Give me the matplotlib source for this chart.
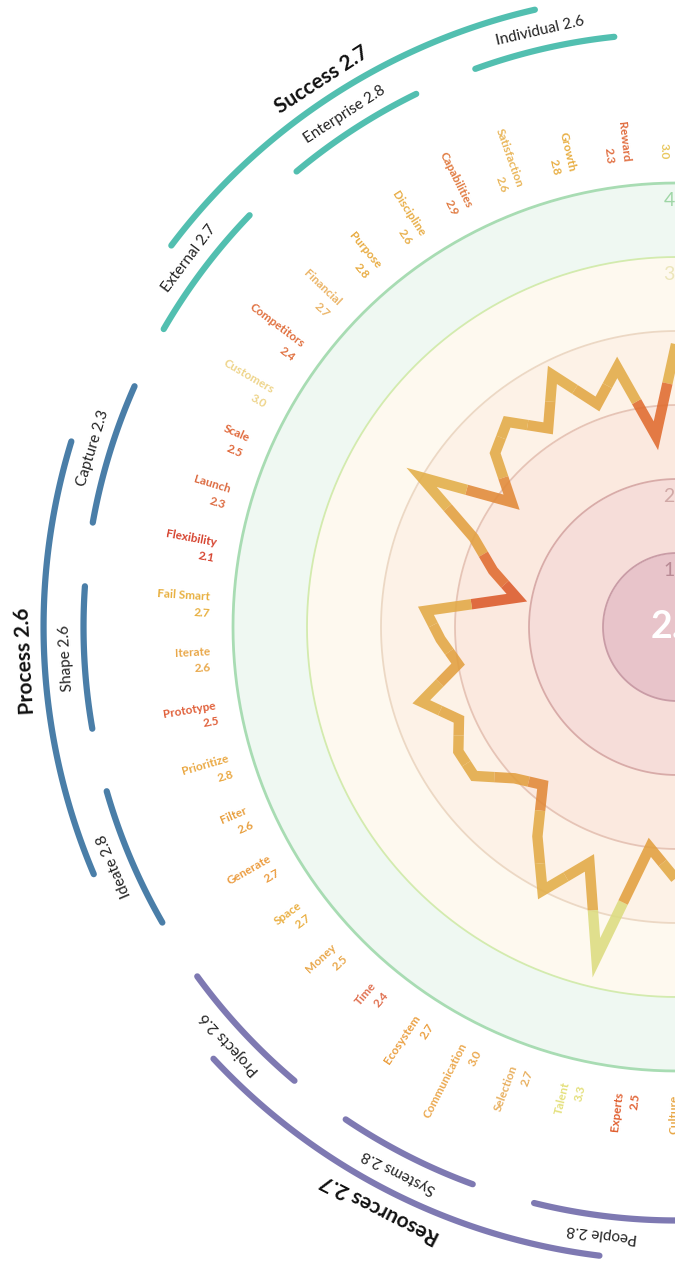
import numpy as np
import matplotlib.pyplot as plt
from matplotlib.collections import LineCollection
from matplotlib.colors import LinearSegmentedColormap

plt.rcParams['font.family'] = ['Lato', 'DejaVu Sans']

# scored items, counterclockwise from just left of twelve o'clock
item_names = ["Engage", "Reward", "Growth", "Satisfaction", "Capabilities", "Discipline",
              "Purpose", "Financial", "Competitors", "Customers", "Scale", "Launch",
              "Flexibility", "Fail Smart", "Iterate", "Prototype", "Prioritize", "Filter",
              "Generate", "Space", "Money", "Time", "Ecosystem", "Communication",
              "Selection", "Talent", "Experts", "Culture"]
item_scores = [3.0, 2.3, 2.8, 2.6, 2.9, 2.6,
               2.8, 2.7, 2.4, 3.0, 2.5, 2.3,
               2.1, 2.7, 2.6, 2.5, 2.8, 2.6,
               2.7, 2.7, 2.5, 2.4, 2.7, 3.0,
               2.7, 3.3, 2.5, 2.7]
item_colors = ["#e9c860", "#e06c3e", "#e8ae42", "#e9b65a", "#e07a40", "#e8ae48",
               "#e8ab40", "#ebb466", "#e0703f", "#eed48a", "#e0683a", "#dc6a40",
               "#d6432f", "#e8b040", "#e9a84a", "#e0603a", "#eaa842", "#e8a040",
               "#eb9c40", "#eab044", "#e9a84c", "#e07050", "#eba042", "#eba84e",
               "#e8b060", "#e4e07c", "#e05f30", "#e8a848"]

subgroup_names = ["Individual", "Enterprise", "External", "Capture", "Shape", "Ideate",
                  "Projects", "Systems", "People"]
subgroup_scores = [2.6, 2.8, 2.7, 2.3, 2.6, 2.8, 2.6, 2.8, 2.8]

group_names = ["Success", "Process", "Resources"]
group_scores = [2.7, 2.6, 2.7]
group_colors = ["#52bfb0", "#4a7ea8", "#7e79b2"]

overall_score = 2.7

ring_levels = [1.5, 2.0, 2.5, 3.0, 3.5, 4.0]
ring_labels = ["1.5", "2.0", "", "", "3.5", "4.0"]
ring_fills = ["#e8c4ca", "#f6ddd9", "#fbe9df", "#fdf2e7", "#fef9ef", "#eff8f2"]
ring_edges = ["#c99ca6", "#d8aba8", "#e6c4b6", "#ecd8c4", "#d3ebae", "#a8dcb3"]
ring_label_colors = ["#b88a95", "#d0a8a6", "", "", "#ece6bc", "#9fd6a6"]

N_SLOTS = 54
STEP = 2 * np.pi / N_SLOTS
THETA0 = np.deg2rad(96.3)
FIRST_SLOT = -1

fig = plt.figure(figsize=(6.75, 12.63), dpi=100)
R = 740.0
cx, cy = 677.0, 627.0
ax = fig.add_axes([(cx - R) / 675, (1263 - cy - R) / 1263, 2 * R / 675, 2 * R / 1263],
                  projection='polar')
ax.set_ylim(1, 6)
ax.axis('off')

full = np.linspace(0, 2 * np.pi, 721)

# concentric bands
inner = 1.0
for lev, fc in zip(ring_levels, ring_fills):
    ax.fill_between(full, inner, lev, color=fc, lw=0, zorder=1)
    inner = lev
for lev, ec in zip(ring_levels, ring_edges):
    lw = 2.0 if lev == 4.0 else 1.3
    ax.plot(full, np.full_like(full, lev), color=ec, lw=lw, zorder=2)

for lev, lab, col in zip(ring_levels, ring_labels, ring_label_colors):
    if lab:
        ax.text(np.pi / 2, lev - 0.12, lab, color=col, fontsize=14,
                ha='center', va='center', zorder=3)

# score line, each vertex coloured by its own score
cmap = LinearSegmentedColormap.from_list(
    'score', [(0.0, '#d9532a'), (0.07, '#dc5a2a'), (0.22, '#e06c2e'), (0.33, '#e29c3e'),
              (0.45, '#e2a844'), (0.72, '#e2ae48'), (0.93, '#dcdc80'), (1.0, '#dcdc80')])
scores = np.array(item_scores)
theta = THETA0 + STEP * (np.arange(len(scores)) + FIRST_SLOT)
rho = scores - 1.0
px, py = rho * np.cos(theta), rho * np.sin(theta)
mx, my = (px[:-1] + px[1:]) / 2, (py[:-1] + py[1:]) / 2


def to_polar(x, y):
    return np.arctan2(y, x), np.hypot(x, y) + 1.0


segs = []
for i in range(len(scores)):
    pts = []
    if i > 0:
        pts.append(to_polar(mx[i - 1], my[i - 1]))
    pts.append((theta[i], scores[i]))
    if i < len(scores) - 1:
        pts.append(to_polar(mx[i], my[i]))
    segs.append(pts)
seg_colors = cmap((scores - 2.0) / 1.4)
lc = LineCollection(segs, colors=seg_colors, linewidths=7.5, capstyle='butt',
                    joinstyle='miter', alpha=0.88, zorder=4)
ax.add_collection(lc)

ax.text(0, 1.0, f"{overall_score}", color='white', fontsize=27, fontweight='bold',
        ha='center', va='center', zorder=5)

# item labels, read towards the centre
R_LAB = 4.16
DELTA = np.deg2rad(2.0)
for t, name, sc, col in zip(theta, item_names, item_scores, item_colors):
    rot = np.rad2deg(t) - 180
    ax.text(t, R_LAB, name, color=col, fontsize=8.5, fontweight='bold',
            rotation=rot, rotation_mode='anchor', ha='right', va='center', zorder=5)
    ax.text(t + DELTA, R_LAB, f"{sc}", color=col, fontsize=8.5, fontweight='bold',
            rotation=rot, rotation_mode='anchor', ha='right', va='center', zorder=5)

# subgroup arcs and labels
half_sub = np.deg2rad(6.9)
for j, (name, sc) in enumerate(zip(subgroup_names, subgroup_scores)):
    tc = THETA0 + STEP * (3 * j + 1)
    col = group_colors[j // 3]
    arc = np.linspace(tc - half_sub, tc + half_sub, 60)
    ax.plot(arc, np.full_like(arc, 5.01), color=col, lw=4.5, solid_capstyle='round', zorder=3)
    ax.text(tc, 5.13, f"{name} {sc}", color='#222222', fontsize=11,
            rotation=np.rad2deg(tc) - 90, rotation_mode='anchor',
            ha='center', va='center', zorder=5)

# group arcs and labels
half_grp = np.deg2rad(20)
for g, (name, sc, col) in enumerate(zip(group_names, group_scores, group_colors)):
    tc = THETA0 + STEP * (9 * g + 4)
    arc = np.linspace(tc - half_grp, tc + half_grp, 120)
    ax.plot(arc, np.full_like(arc, 5.28), color=col, lw=4.5, solid_capstyle='round', zorder=3)
    ax.text(tc, 5.41, f"{name} {sc}", color='#111111', fontsize=15, fontweight='bold',
            rotation=np.rad2deg(tc) - 90, rotation_mode='anchor',
            ha='center', va='center', zorder=5)

fig.savefig('out.png', dpi=100)
